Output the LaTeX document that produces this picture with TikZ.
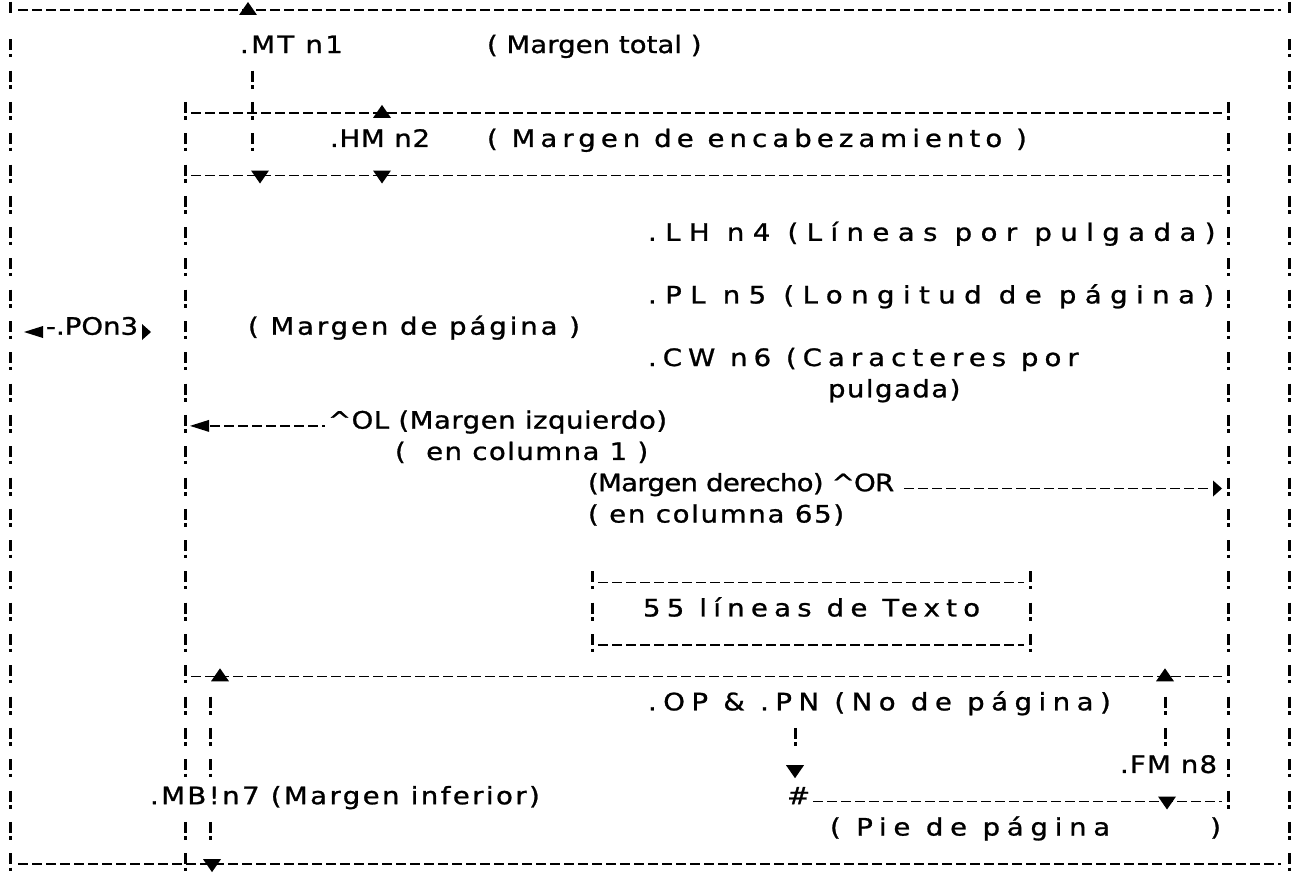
\documentclass[tikz,border=0pt]{standalone}
\usepackage{fontspec}
\setmainfont{DejaVu Sans}[FakeStretch=1.15, FakeBold=1]
\newcommand\rowy[1]{{19+31.3*(#1)}}
\tikzset{
  lbl/.style={font={\fontsize{24}{24}\selectfont\addfontfeature{LetterSpace=#1}},
              anchor=mid west, inner sep=0pt, outer sep=0pt},
  lbl/.default=20,
  hline/.style={line width=1.6pt, dash pattern=on 10pt off 4pt},
  vbang/.style={line width=3pt, dash pattern=on 11pt off 3.5pt on 3.5pt off 13.3pt},
  tup/.pic={\fill (0,8pt) -- (9pt,-5pt) -- (-9pt,-5pt) -- cycle;},
  tdown/.pic={\fill (0,-8pt) -- (9pt,5pt) -- (-9pt,5pt) -- cycle;},
  tleft/.pic={\fill (-12pt,0pt) -- (7pt,6pt) -- (7pt,-6pt) -- cycle;},
  tright/.pic={\fill (6pt,0) -- (-3pt,8pt) -- (-3pt,-8pt) -- cycle;},
}
\begin{document}
\begin{tikzpicture}[x=1pt,y=-1pt]
\useasboundingbox (0,0) rectangle (1298,888);

% ---- outer page ----
\coordinate (otl) at (10,10);
\coordinate (otr) at (1289,10);
\coordinate (obl) at (10,\rowy{27});
\coordinate (obr) at (1289,\rowy{27});
\coordinate (ol1) at (10,\rowy{1});
\coordinate (or1) at (1289,\rowy{1});
\draw[hline] ([xshift=8pt]otl) -- ([xshift=-8pt]otr);
\draw[hline] ([xshift=8pt]obl) -- ([xshift=-8pt]obr);
\draw[line width=3pt] (10,2) -- (10,13);
\draw[line width=3pt] (1289,2) -- (1289,13);
\draw[vbang] ([yshift=11pt]ol1) -- ([yshift=-7pt]obl);
\draw[vbang] ([yshift=11pt]or1) -- ([yshift=-7pt]obr);

% ---- total margin ----
\coordinate (mttop) at (248,10);
\coordinate (mta) at (252,\rowy{2});
\coordinate (mtb) at (252,\rowy{4});
\coordinate (mtbot) at (260,\rowy{5});
\node[lbl=10] (mt) at (240,\rowy{1}) {.MT n1};
\node[lbl=0] (mtx) at (487,\rowy{1}) {( Margen total )};
\draw[vbang] ([yshift=11pt]mta) -- ([yshift=-7pt]mtb);
\pic at (mttop) {tup};
\pic at (mtbot) {tdown};

% ---- text area box ----
\coordinate (itl) at (185,\rowy{3});
\coordinate (itr) at (1228,\rowy{3});
\coordinate (ihl) at (185,\rowy{5});
\coordinate (ihr) at (1228,\rowy{5});
\coordinate (ifl) at (185,\rowy{21});
\coordinate (ifr) at (1228,\rowy{21});
\coordinate (il24) at (185,\rowy{24});
\coordinate (il26) at (185,\rowy{26});
\coordinate (ibl) at (185,\rowy{27});
\coordinate (ir25) at (1228,\rowy{25});
\draw[hline] ([xshift=6pt]itl) -- ([xshift=-6pt]itr);
\draw[hline] ([xshift=6pt]ihl) -- ([xshift=-6pt]ihr);
\draw[hline] ([xshift=6pt]ifl) -- ([xshift=-6pt]ifr);
\draw[vbang] ([yshift=11pt]itl) -- ([yshift=-7pt]il24);
\draw[vbang] ([yshift=11pt]il26) -- ([yshift=-7pt]ibl);
\draw[vbang] ([yshift=11pt]itr) -- ([yshift=-7pt]ir25);

% ---- heading margin ----
\coordinate (hmtop) at (382,\rowy{3});
\coordinate (hmbot) at (382,\rowy{5});
\node[lbl=3] (hm) at (330,\rowy{4}) {.HM n2};
\node[lbl=21] (hmx) at (487,\rowy{4}) {( Margen de encabezamiento )};
\pic at (hmtop) {tup};
\pic at (hmbot) {tdown};

% ---- page settings ----
\node[lbl=35] (lh) at (648,\rowy{7}) {.LH n4 (Líneas por pulgada)};
\node[lbl=35] (pl) at (648,\rowy{9}) {.PL n5 (Longitud de página)};
\node[lbl=25] (cw) at (648,\rowy{11}) {.CW n6 (Caracteres por};
\node[lbl=6] (cw2) at (828,\rowy{12}) {pulgada)};

% ---- page offset ----
\coordinate (poL) at (36,\rowy{10});
\coordinate (poR) at (145,\rowy{10});
\node[lbl=0] (po) at (46,\rowy{10}) {-.POn3};
\node[lbl=12] (pox) at (248,\rowy{10}) {( Margen de página )};
\pic at (poL) {tleft};
\pic at (poR) {tright};

% ---- left margin ----
\coordinate (olA) at (202,\rowy{13});
\node[lbl=2] (ol) at (328,\rowy{13}) {\^{}OL (Margen izquierdo)};
\node[lbl=6] (ol2) at (395,\rowy{14}) {(\ \ en columna 1 )};
\draw[hline] ([xshift=8pt]olA) -- ([xshift=-3pt]ol.mid west);
\pic at (olA) {tleft};

% ---- right margin ----
\coordinate (orA) at (1216,\rowy{15});
\node[lbl=-3] (or) at (588,\rowy{15}) {(Margen derecho) \^{}OR};
\node[lbl=7] (or2) at (588,\rowy{16}) {( en columna 65)};
\draw[hline] ([xshift=10pt]or.mid east) -- ([xshift=-4pt]orA);
\pic at (orA) {tright};

% ---- text lines box ----
\coordinate (ttl) at (592,\rowy{18});
\coordinate (ttr) at (1030,\rowy{18});
\coordinate (tbl) at (592,\rowy{20});
\coordinate (tbr) at (1030,\rowy{20});
\draw[hline] ([xshift=6pt]ttl) -- ([xshift=-6pt]ttr);
\draw[hline] ([xshift=6pt]tbl) -- ([xshift=-6pt]tbr);
\draw[vbang] ([yshift=11pt]ttl) -- ([yshift=-7pt]tbl);
\draw[vbang] ([yshift=11pt]ttr) -- ([yshift=-7pt]tbr);
\node[lbl=26] (tx) at (643,\rowy{19}) {55 líneas de Texto};

% ---- page number ----
\node[lbl=27] (op) at (648,\rowy{22}) {.OP \& .PN (No de página)};
\coordinate (pna) at (795,\rowy{23});
\coordinate (pnbot) at (795,\rowy{24});
\draw[vbang] ([yshift=11pt]pna) -- ([yshift=-7pt]pna);
\pic at (pnbot) {tdown};

% ---- footing margin ----
\coordinate (fmtop) at (1165,\rowy{21});
\coordinate (fma) at (1165,\rowy{22});
\coordinate (fmb) at (1165,\rowy{23});
\coordinate (fmbot) at (1167,\rowy{25});
\draw[vbang] ([yshift=11pt]fma) -- ([yshift=-7pt]fmb);
\pic at (fmtop) {tup};
\node[lbl=5] (fm) at (1120,\rowy{24}) {.FM n8};
\node[lbl=0] (hash) at (787,\rowy{25}) {\#};
\draw[hline] ([xshift=3pt]hash.mid east) -- ([xshift=-6pt]ir25);
\pic at (fmbot) {tdown};
\node[lbl=28] (pie) at (830,\rowy{26}) {( Pie de página\hspace*{100pt})};

% ---- bottom margin ----
\coordinate (mbtop) at (220,\rowy{21});
\coordinate (mba) at (210,\rowy{22});
\coordinate (mbb) at (210,\rowy{24});
\coordinate (mbc) at (210,\rowy{26});
\coordinate (mbbot) at (212,\rowy{27});
\draw[vbang] ([yshift=11pt]mba) -- ([yshift=-7pt]mbb);
\draw[vbang] ([yshift=11pt]mbc) -- ([yshift=-7pt]mbc);
\pic at (mbtop) {tup};
\pic at (mbbot) {tdown};
\node[lbl=10] (mb) at (150,\rowy{25}) {.MB!n7 (Margen inferior)};
\end{tikzpicture}
\end{document}
